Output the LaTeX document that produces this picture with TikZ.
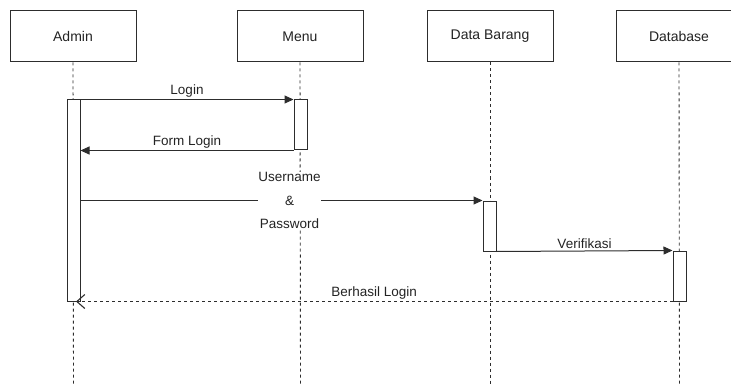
\documentclass[tikz,border=0pt]{standalone}
\usepackage{xcolor}
\usepackage{tikz}
\usepackage{fontspec}
\setmainfont{Liberation Sans}
\definecolor{linegray}{RGB}{45, 45, 45}
\definecolor{textgray}{RGB}{35, 35, 35}
\usetikzlibrary{arrows.meta, positioning, calc}

\begin{document}
\begin{tikzpicture}[
    x=1pt, y=-1pt,
    actor/.style={rectangle, draw=linegray, fill=white, line width=1pt,
                minimum width=126pt, minimum height=51pt, align=center,
                text=textgray, font=\fontsize{14}{16}\selectfont},
    bar/.style={rectangle, draw=linegray, fill=white, line width=1pt,
                minimum width=13pt, inner sep=0pt},
    life/.style={linegray, line width=0.9pt, dash pattern=on 3pt off 3pt},
    msg/.style={-{Triangle[length=9pt, width=8pt]}, linegray, line width=1pt},
    reply/.style={-{Straight Barb[length=8pt, width=14pt, line width=1.1pt]},
                linegray, line width=1pt, dash pattern=on 3pt off 3pt},
    lbl/.style={text=textgray, font=\fontsize{13.5}{15}\selectfont, inner sep=2pt}
]
    \useasboundingbox (0,0) rectangle (731,385);
    \clip (0,0) rectangle (731,385);

    % objects
    \node[actor] (admin) at (73,36.5) {Admin};
    \node[actor] (menu) at (300,36.5) {Menu};
    \node[actor] (barang) at (490,36.5) {Data Barang};
    \node[actor] (db) at (679,36.5) {Database};

    % lifelines
    \coordinate (adminEnd) at (73.5,385);
    \coordinate (menuEnd) at (300.5,385);
    \coordinate (barangEnd) at (490,385);
    \coordinate (dbEnd) at (679.5,385);
    \draw[life] (admin.south) -- (adminEnd);
    \draw[life] (menu.south) -- (menuEnd);
    \draw[life] (barang.south) -- (barangEnd);
    \draw[life] (db.south) -- (dbEnd);

    % activations
    \node[bar, minimum height=201pt] (actAdmin) at (73.5,200.5) {};
    \node[bar, minimum height=50pt] (actMenu) at (300.5,125) {};
    \node[bar, minimum height=50pt] (actBarang) at (489.5,226) {};
    \node[bar, minimum height=50pt] (actDb) at (679.5,276) {};

    % messages
    \draw[msg] (actAdmin.east |- actMenu.north) -- (actMenu.north west)
        node[lbl, midway, above] (login) {Login};
    \draw[msg] (actMenu.south west) -- (actAdmin.east |- actMenu.south)
        node[lbl, midway, above] (form) {Form Login};
    \draw[msg] (actAdmin.east |- actBarang.north) -- (actBarang.north west)
        node[lbl, pos=0.52, fill=white, inner sep=0pt, align=center,
             font=\fontsize{13.5}{23.5}\selectfont] (userpass) {Username\\\&\\Password};
    \draw[msg] (actBarang.south east) -- (actDb.north west)
        node[lbl, midway, above] (verif) {Verifikasi};
    \draw[reply] (actDb.south west) -- ([xshift=2.5pt]actAdmin.south)
        node[lbl, midway, above] (ok) {Berhasil Login};
\end{tikzpicture}
\end{document}
